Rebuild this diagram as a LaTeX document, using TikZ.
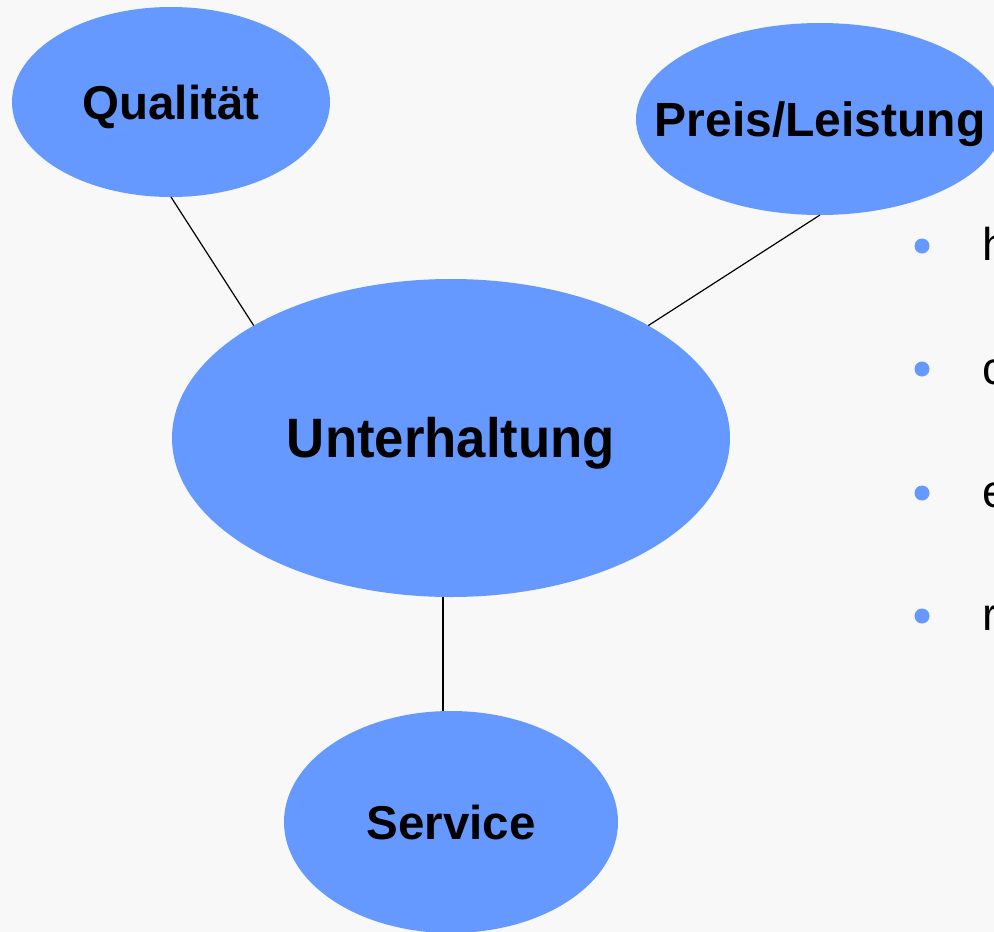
\documentclass[tikz,border=0pt]{standalone}
\usepackage{fontspec}
\setmainfont{Liberation Sans}
\usetikzlibrary{shapes.geometric,calc}
\definecolor{bgc}{HTML}{F8F8F8}
\definecolor{blobc}{HTML}{6699FF}
\newcommand{\ctext}[1]{\makebox[0pt]{\raisebox{-0.358em}[0pt][0pt]{#1}}}
\begin{document}
\begin{tikzpicture}[x=1pt,y=-1pt,
  blob/.style={ellipse, fill=blobc, draw=none, inner sep=0pt, outer sep=0pt},
  lab/.style={font=\fontsize{#1}{#1}\selectfont\bfseries},
  conn/.style={line width=1.2pt, black},
  dotc/.style={circle, fill=blobc, draw=none, minimum size=15pt, inner sep=0pt},
  btext/.style={anchor=base west, inner sep=0pt, font=\fontsize{46}{46}\selectfont}]
\clip (0,0) rectangle (994,932);
\fill[bgc] (0,0) rectangle (994,932);
\node[blob, minimum width=318pt, minimum height=190pt, lab=47.5] (q) at (171,102) {\ctext{Qualität}};
\node[blob, minimum width=368pt, minimum height=192pt, lab=48] (p) at (820,119) {\ctext{Preis/Leistung}};
\node[blob, minimum width=558pt, minimum height=318pt, lab=55.5] (u) at (451,438) {\ctext{\scalebox{0.95}[1]{Unterhaltung}}};
\node[blob, minimum width=334pt, minimum height=222pt, lab=47.5] (s) at (451,822) {\ctext{Service}};
\draw[conn] (q.south) -- ($(u.center)+(135:279pt and 159pt)$);
\draw[conn] (p.south) -- ($(u.center)+(45:279pt and 159pt)$);
\draw[conn] ($(u.south)+(-8pt,0pt)$) -- ($(s.north)+(-8pt,0pt)$);
\node[dotc] (b1) at (922,246) {};
\node[dotc] (b2) at (922,369) {};
\node[dotc] (b3) at (922,493) {};
\node[dotc] (b4) at (922,616) {};
\node[btext] (t1) at (982,260) {h};
\node[btext] (t2) at (982,384) {c};
\node[btext] (t3) at (982,507) {e};
\node[btext] (t4) at (982,630) {r};
\end{tikzpicture}
\end{document}
